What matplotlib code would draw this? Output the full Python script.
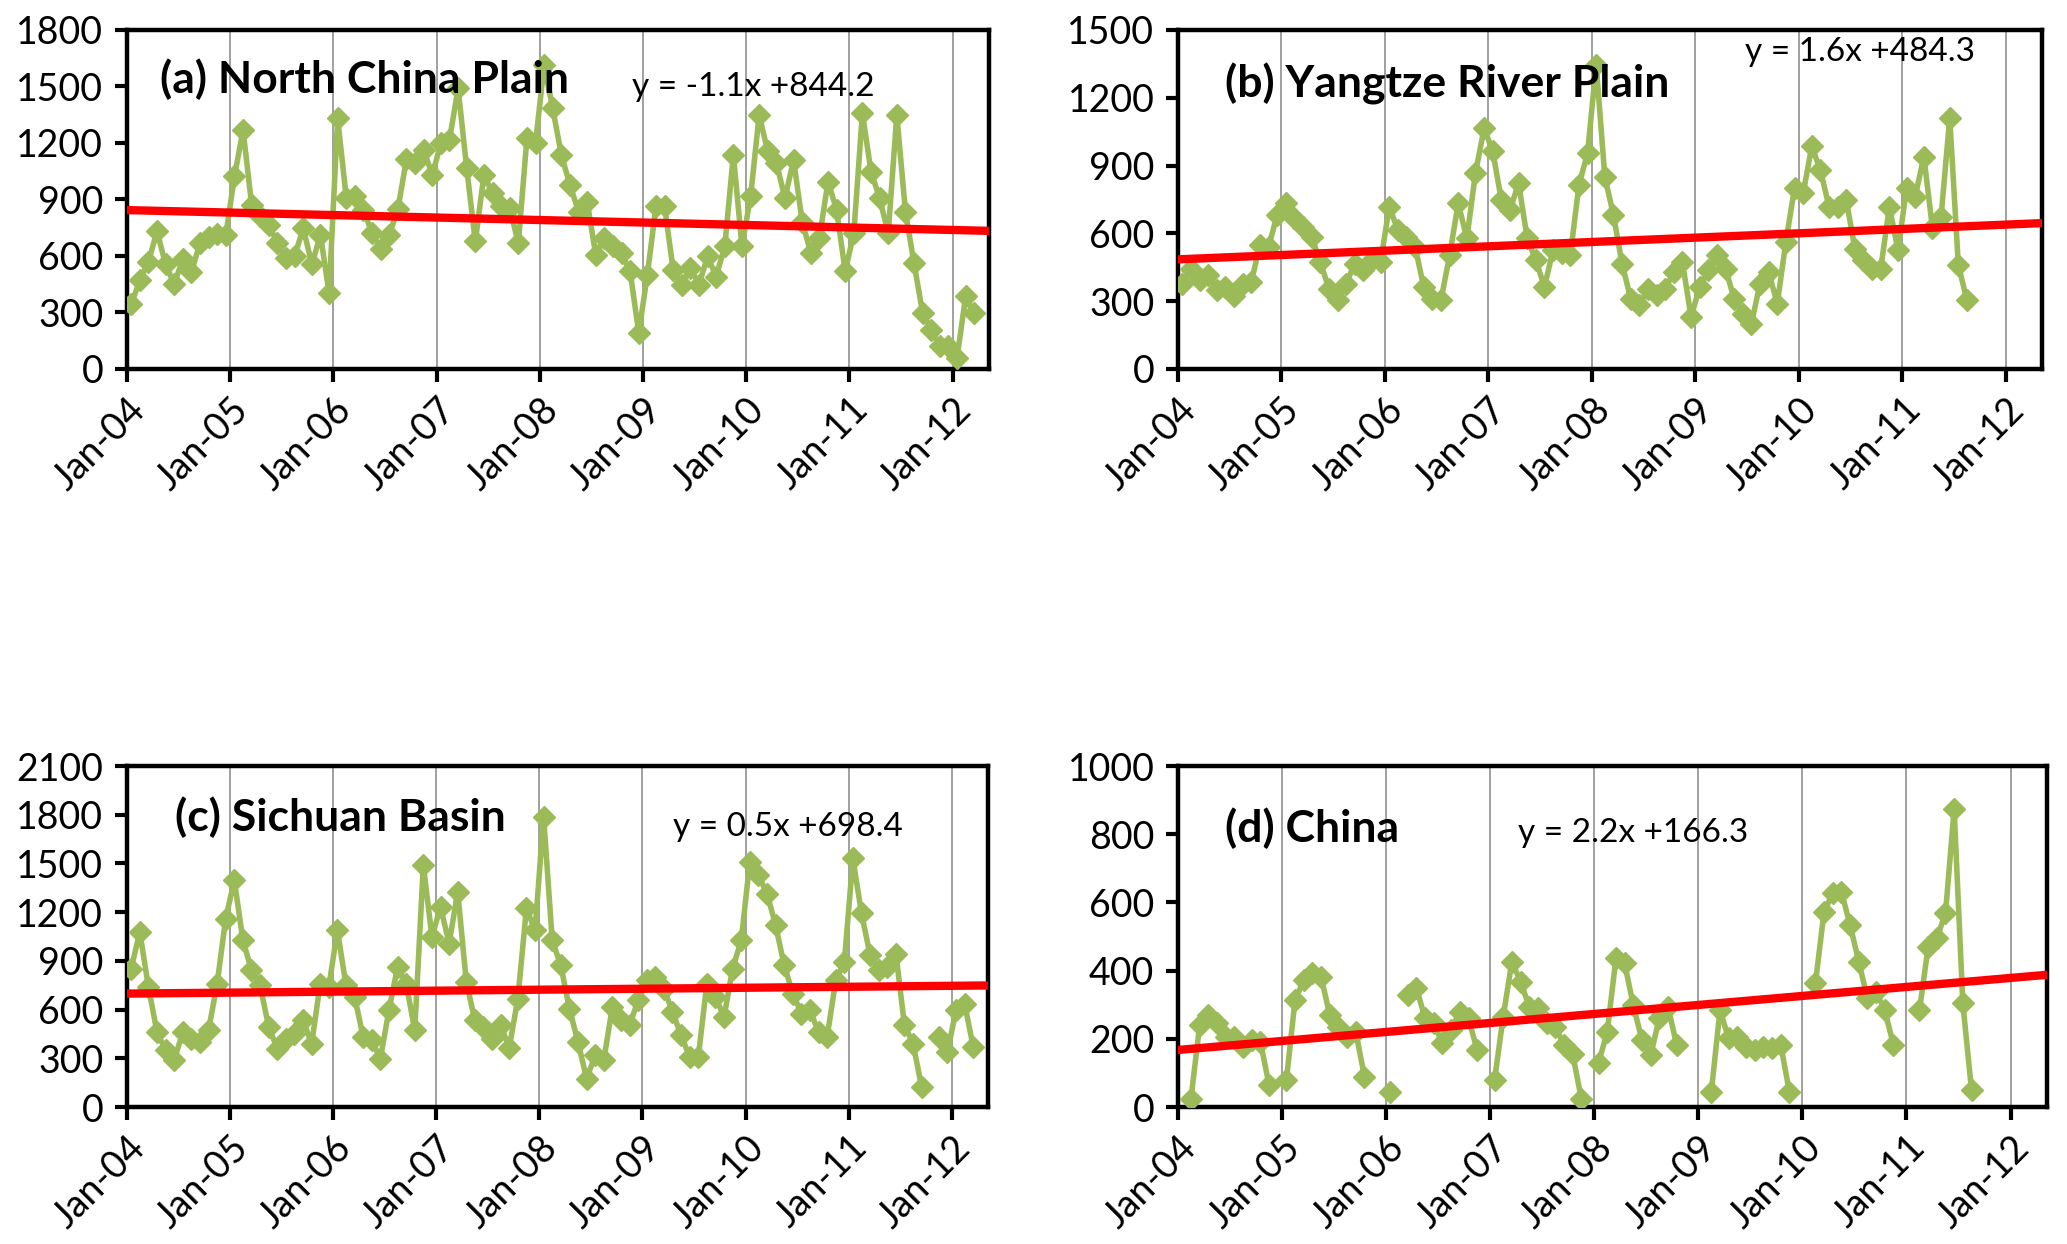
import numpy as np
import matplotlib.pyplot as plt

nan = np.nan

# monthly values from Jan-2004 (one value per month)
north_china = [345, 470, 570, 730, 555, 450, 585, 515, 670, 700, 715, 712,
               1022, 1269, 872, 810, 766, 668, 589, 600, 748, 555, 712, 403,
               1331, 907, 916, 845, 721, 636, 713, 849, 1114, 1093, 1163, 1030,
               1199, 1217, 1491, 1066, 677, 1031, 934, 863, 854, 668, 1225, 1199,
               1614, 1384, 1137, 978, 836, 889, 606, 695, 651, 615, 518, 191,
               500, 863, 863, 527, 447, 536, 447, 598, 491, 651, 1137, 651,
               916, 1349, 1155, 1093, 907, 1110, 783, 615, 695, 995, 845, 518,
               721, 1358, 1048, 907, 721, 1349, 836, 562, 297, 209, 120, 120,
               58, 385, 297]

yangtze = [378, 444, 392, 415, 348, 363, 321, 378, 385, 548, 540, 681,
           733, 666, 629, 585, 474, 355, 306, 378, 466, 437, 481, 474,
           718, 615, 585, 540, 363, 311, 304, 503, 733, 578, 866, 1066,
           963, 748, 703, 822, 578, 481, 363, 526, 515, 503, 814, 955,
           1347, 851, 681, 466, 311, 281, 355, 326, 355, 429, 474, 230,
           363, 437, 503, 444, 311, 244, 200, 378, 429, 289, 563, 800,
           777, 985, 881, 718, 718, 748, 533, 481, 444, 444, 718, 526,
           800, 763, 940, 622, 674, 1111, 459, 304]

sichuan = [853, 1079, 740, 462, 349, 288, 462, 421, 401, 473, 760, 1161,
           1397, 1027, 842, 750, 493, 360, 421, 452, 534, 390, 760, 740,
           1089, 750, 678, 432, 411, 298, 596, 863, 760, 473, 1490, 1048,
           1233, 1007, 1325, 771, 534, 493, 416, 503, 365, 668, 1223, 1089,
           1788, 1027, 873, 606, 401, 175, 318, 288, 616, 534, 503, 658,
           781, 801, 729, 586, 442, 308, 308, 760, 678, 555, 853, 1027,
           1510, 1428, 1315, 1120, 873, 699, 575, 596, 462, 432, 781, 894,
           1531, 1192, 935, 843, 863, 945, 503, 390, 123, nan, 432, 339,
           596, 637, 370]

china = [nan, 25, 240, 270, 245, 206, 206, 177, 196, 192, 65, nan,
         79, 314, 372, 392, 382, 270, 236, 206, 221, 89, nan, nan,
         45, nan, 328, 348, 260, 245, 187, 226, 280, 260, 167, nan,
         79, 265, 426, 368, 294, 289, 245, 236, 182, 157, 25, nan,
         130, 221, 436, 421, 299, 196, 152, 260, 294, 182, nan, nan,
         nan, 45, 284, 201, 206, 177, 167, 177, 172, 182, 45, nan,
         nan, 363, 573, 627, 631, 534, 426, 319, 338, 284, 182, nan,
         nan, 284, 470, 495, 568, 873, 304, 50]

titles = ['(a) North China Plain', '(b) Yangtze River Plain',
          '(c) Sichuan Basin', '(d) China']
slopes = [-1.1, 1.6, 0.5, 2.2]
intercepts = [844.2, 484.3, 698.4, 166.3]
y_max = [1800, 1500, 2100, 1000]
y_step = [300, 300, 300, 200]
tick_labels = ['Jan-04', 'Jan-05', 'Jan-06', 'Jan-07', 'Jan-08',
               'Jan-09', 'Jan-10', 'Jan-11', 'Jan-12']

plt.rcParams['font.family'] = ['Lato', 'DejaVu Sans']

fig = plt.figure(figsize=(20.67, 12.44), dpi=100)

# axes boxes, title and equation positions (axes fractions)
boxes = [[0.0614, 0.7034, 0.4170, 0.2725],
         [0.5699, 0.7034, 0.4180, 0.2725],
         [0.0614, 0.1101, 0.4165, 0.2741],
         [0.5699, 0.1101, 0.4204, 0.2741]]
title_pos = [(0.038, 0.855), (0.054, 0.840), (0.056, 0.850), (0.054, 0.818)]
eq_pos = [(0.586, 0.832), (0.656, 0.935), (0.634, 0.821), (0.391, 0.803)]

series = [north_china, yangtze, sichuan, china]
x_right = 100.2

for k in range(4):
    ax = fig.add_axes(boxes[k])
    vals = np.array(series[k], dtype=float)
    months = np.arange(len(vals)) + 0.5
    ax.plot(months, vals, color='#9BBB59', lw=4, marker='D', ms=11.5,
            mec='#9BBB59', mfc='#9BBB59', zorder=3)

    # trend line from the fitted equation (x = month number)
    xt = np.array([0, x_right])
    ax.plot(xt, slopes[k] * (xt + 0.5) + intercepts[k], color='#FF0000',
            lw=6, solid_capstyle='round', zorder=4)

    ax.set_xlim(0, x_right)
    ax.set_ylim(0, y_max[k])
    ax.set_yticks(np.arange(0, y_max[k] + 1, y_step[k]))
    ax.set_xticks(np.arange(0, 97, 12))
    ax.set_xticklabels(tick_labels, rotation=45, ha='right', va='top',
                       rotation_mode='anchor')
    ax.tick_params(axis='both', direction='out', length=9, width=3,
                   labelsize=27, pad=8)
    ax.tick_params(axis='x', pad=7)
    ax.grid(axis='x', color='#999999', lw=1.3)
    ax.set_axisbelow(True)
    for s in ax.spines.values():
        s.set_linewidth(3.2)
        s.set_color('black')

    ax.text(title_pos[k][0], title_pos[k][1], titles[k], transform=ax.transAxes,
            ha='left', va='center', fontsize=32, fontweight='bold', zorder=5)
    sign = '-' if slopes[k] < 0 else ''
    eq = 'y = %s%.1fx +%.1f' % (sign, abs(slopes[k]), intercepts[k])
    ax.text(eq_pos[k][0], eq_pos[k][1], eq, transform=ax.transAxes,
            ha='left', va='center', fontsize=24, zorder=5)

fig.savefig('out.png', dpi=100)
